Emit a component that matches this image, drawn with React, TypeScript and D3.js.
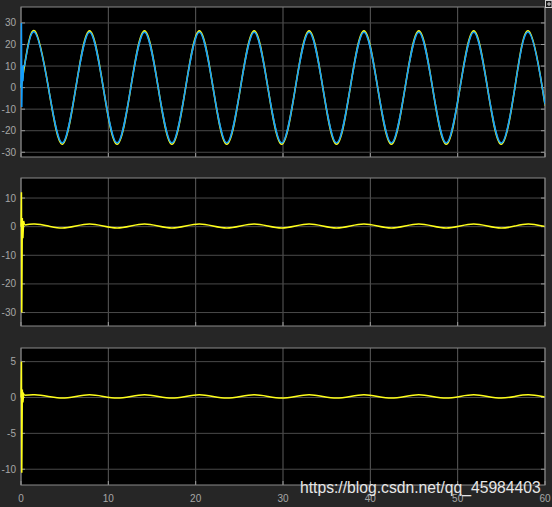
import React from "react";
import * as d3 from "d3";

// time samples (quarter periods of the oscillation) for the smooth part
const timeQ = [0.4, 1.57, 3.14, 4.71, 6.28, 7.85, 9.42, 11.0, 12.57, 14.14, 15.71, 17.28, 18.85, 20.42, 21.99, 23.56, 25.13, 26.7, 28.27, 29.85, 31.42, 32.99, 34.56, 36.13, 37.7, 39.27, 40.84, 42.41, 43.98, 45.55, 47.12, 48.69, 50.27, 51.84, 53.41, 54.98, 56.55, 58.12, 59.69, 60];

// panel 1 : yellow signal
const yellow1Start = [0, 0.4];
const yellow1StartV = [0, 10.2];
const yellow1V = [10.2, 26.3, 0, -26.3, 0, 26.3, 0, -26.3, 0, 26.3, 0, -26.3, 0, 26.3, 0, -26.3, 0, 26.3, 0, -26.3, 0, 26.3, 0, -26.3, 0, 26.3, 0, -26.3, 0, 26.3, 0, -26.3, 0, 26.3, 0, -26.3, 0, 26.3, 0, -8.0];
// panel 1 : blue signal
const blue1Start = [0, 0.05, 0.09, 0.15, 0.22, 0.3, 0.4];
const blue1StartV = [0, 30, -9, 10, 3, 10, 10.0];
const blue1V = [10.0, 25.7, 0, -25.7, 0, 25.7, 0, -25.7, 0, 25.7, 0, -25.7, 0, 25.7, 0, -25.7, 0, 25.7, 0, -25.7, 0, 25.7, 0, -25.7, 0, 25.7, 0, -25.7, 0, 25.7, 0, -25.7, 0, 25.7, 0, -25.7, 0, 25.7, 0, -7.8];
// panel 2 : yellow signal
const yellow2Start = [0, 0.05, 0.09, 0.15, 0.22, 0.3, 0.4];
const yellow2StartV = [0, 12, -30, 3, -4, 2, 0.6];
const yellow2V = [0.6, 0.9, 0.2, -0.5, 0.2, 0.9, 0.2, -0.5, 0.2, 0.9, 0.2, -0.5, 0.2, 0.9, 0.2, -0.5, 0.2, 0.9, 0.2, -0.5, 0.2, 0.9, 0.2, -0.5, 0.2, 0.9, 0.2, -0.5, 0.2, 0.9, 0.2, -0.5, 0.2, 0.9, 0.2, -0.5, 0.2, 0.9, 0.2, 0.0];
// panel 3 : yellow signal
const yellow3Start = [0, 0.05, 0.09, 0.15, 0.22, 0.3, 0.4];
const yellow3StartV = [0, 5, -10.5, 1.1, -0.7, 0.5, 0.3];
const yellow3V = [0.3, 0.37, 0.15, -0.07, 0.15, 0.37, 0.15, -0.07, 0.15, 0.37, 0.15, -0.07, 0.15, 0.37, 0.15, -0.07, 0.15, 0.37, 0.15, -0.07, 0.15, 0.37, 0.15, -0.07, 0.15, 0.37, 0.15, -0.07, 0.15, 0.37, 0.15, -0.07, 0.15, 0.37, 0.15, -0.07, 0.15, 0.37, 0.15, 0.08];

const xTicks = [0, 10, 20, 30, 40, 50, 60];
const yTicks1 = [-30, -20, -10, 0, 10, 20, 30];
const yTicks2 = [-30, -20, -10, 0, 10];
const yTicks3 = [-10, -5, 0, 5];

const W = 552;
const H = 507;
const LEFT = 21;
const RIGHT = 545;
const YELLOW = "#ffff1a";
const BLUE = "#139fff";

type Series = { t0: number[]; v0: number[]; v: number[]; color: string; width: number };

const xScale = d3.scaleLinear().domain([0, 60]).range([LEFT, RIGHT]);

function Panel({ top, bottom, domain, ticks, series, showX }: { top: number; bottom: number; domain: [number, number]; ticks: number[]; series: Series[]; showX: boolean }) {
  const y = d3.scaleLinear().domain(domain).range([bottom, top]);
  const linLine = d3.line<[number, number]>().x((d) => xScale(d[0])).y((d) => y(d[1]));
  const smooth = d3.line<[number, number]>().x((d) => xScale(d[0])).y((d) => y(d[1])).curve(d3.curveNatural);
  const clipId = `clip-${top}`;
  return (
    <g>
      <defs>
        <clipPath id={clipId}>
          <rect x={LEFT - 1} y={top} width={RIGHT - LEFT + 1} height={bottom - top} />
        </clipPath>
      </defs>
      <rect x={LEFT} y={top} width={RIGHT - LEFT} height={bottom - top} fill="#000" />
      {xTicks.map((t) => (
        <line key={"vx" + t} x1={xScale(t)} x2={xScale(t)} y1={top} y2={bottom} stroke="#5c5c5c" strokeWidth={1} />
      ))}
      {ticks.map((t) => (
        <g key={"hy" + t}>
          <line x1={LEFT} x2={RIGHT} y1={y(t)} y2={y(t)} stroke="#4a4a4a" strokeWidth={1} />
          <line x1={LEFT} x2={LEFT + 4} y1={y(t)} y2={y(t)} stroke="#9a9a9a" strokeWidth={1} />
          <line x1={RIGHT - 4} x2={RIGHT} y1={y(t)} y2={y(t)} stroke="#9a9a9a" strokeWidth={1} />
          <text x={16} y={y(t) + 3.5} textAnchor="end" fontSize={10} fill="#a6a6a6" fontFamily="Liberation Sans, Arial, sans-serif">{t}</text>
        </g>
      ))}
      {xTicks.map((t) => (
        <g key={"tx" + t}>
          <line x1={xScale(t)} x2={xScale(t)} y1={bottom} y2={bottom - 4} stroke="#9a9a9a" strokeWidth={1} />
          {showX && (
            <text x={xScale(t)} y={502} textAnchor="middle" fontSize={10} fill="#a6a6a6" fontFamily="Liberation Sans, Arial, sans-serif">{t}</text>
          )}
        </g>
      ))}
      <rect x={LEFT} y={top} width={RIGHT - LEFT} height={bottom - top} fill="none" stroke="#8a8a8a" strokeWidth={1} />
      <g clipPath={`url(#${clipId})`}>
        {series.map((s, i) => {
          const startPts = s.t0.map((t, k) => [t, s.v0[k]] as [number, number]);
          const pts = timeQ.map((t, k) => [t, s.v[k]] as [number, number]);
          return (
            <g key={i}>
              <path d={linLine(startPts) || ""} fill="none" stroke={s.color} strokeWidth={s.width} />
              <path d={smooth(pts) || ""} fill="none" stroke={s.color} strokeWidth={s.width} />
            </g>
          );
        })}
      </g>
    </g>
  );
}

export default function App() {
  return (
    <svg width={W} height={H} style={{ position: "absolute", left: 0, top: 0, background: "#262626" }}>
      <rect x={0} y={0} width={W} height={H} fill="#262626" />
      <Panel top={7} bottom={157} domain={[-32.2, 37.4]} ticks={yTicks1} showX={false}
        series={[
          { t0: yellow1Start, v0: yellow1StartV, v: yellow1V, color: YELLOW, width: 1.6 },
          { t0: blue1Start, v0: blue1StartV, v: blue1V, color: BLUE, width: 1.5 },
        ]} />
      <Panel top={178} bottom={326} domain={[-34.7, 17]} ticks={yTicks2} showX={false}
        series={[{ t0: yellow2Start, v0: yellow2StartV, v: yellow2V, color: YELLOW, width: 1.5 }]} />
      <Panel top={348} bottom={485} domain={[-12.2, 6.9]} ticks={yTicks3} showX={true}
        series={[{ t0: yellow3Start, v0: yellow3StartV, v: yellow3V, color: YELLOW, width: 1.5 }]} />
      <rect x={545.5} y={0.5} width={6.5} height={7} fill="#1a1a1a" stroke="#cfcfcf" strokeWidth={1} />
      <line x1={547} x2={551} y1={4} y2={4} stroke="#cfcfcf" strokeWidth={1} />
      <line x1={549} x2={549} y1={2} y2={6} stroke="#cfcfcf" strokeWidth={1} />
      <text x={300} y={493} fontSize={15.7} fill="#e6e6e6" fontFamily="Liberation Sans, Arial, sans-serif">https://blog.csdn.net/qq_45984403</text>
    </svg>
  );
}
